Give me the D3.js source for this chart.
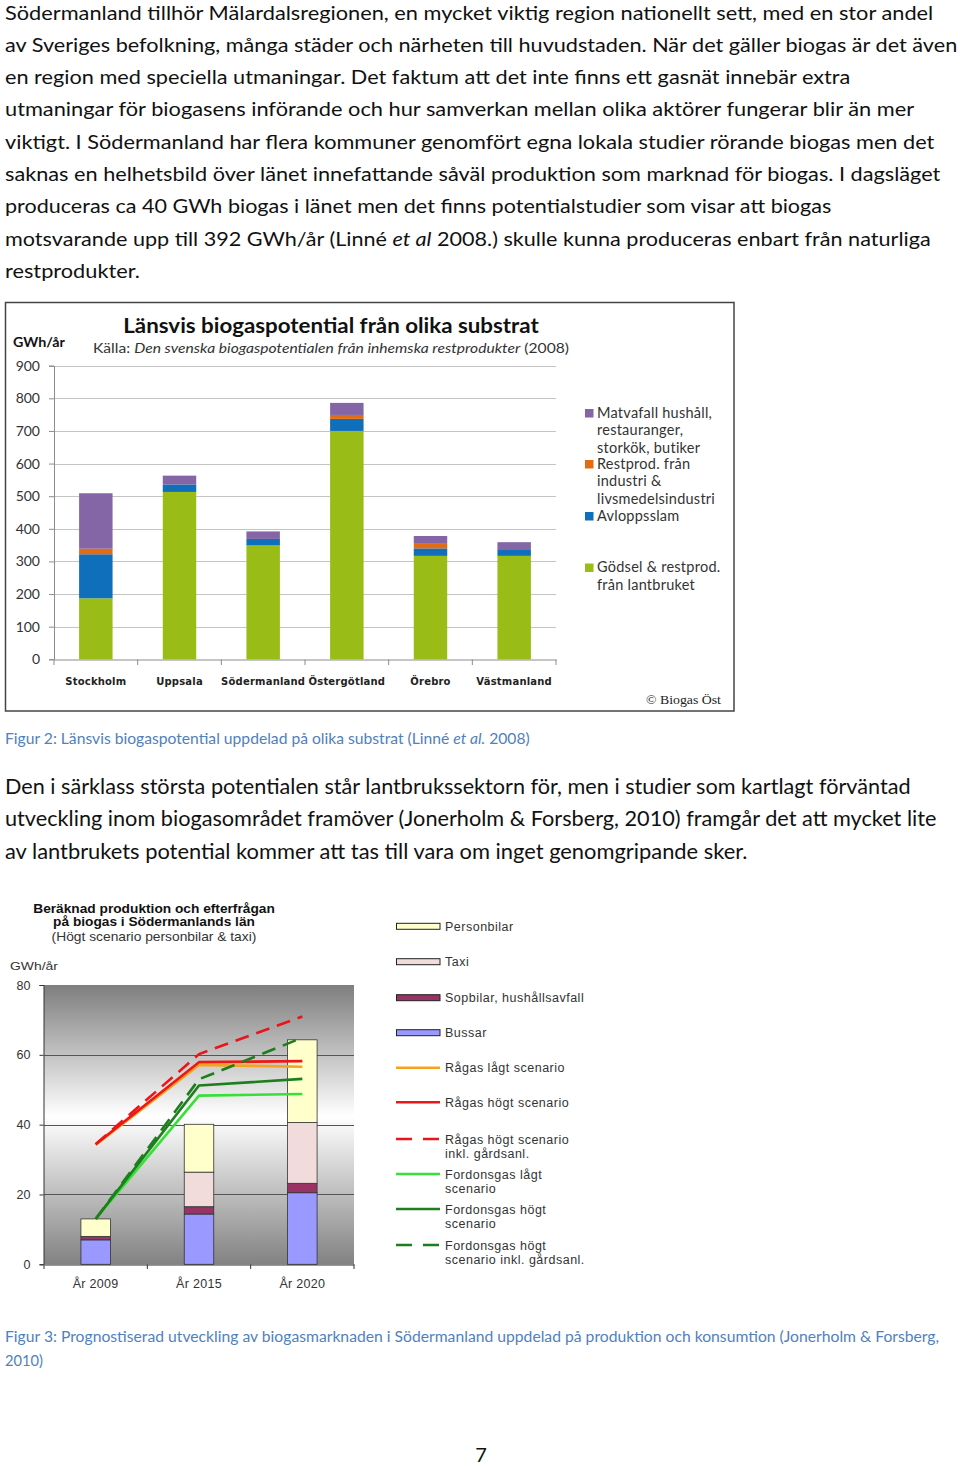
<!DOCTYPE html>
<html><head><meta charset="utf-8">
<script src="https://cdn.jsdelivr.net/npm/d3@7"></script>
<style>body{margin:0;background:#fff}svg{display:block}</style>
</head><body>
<script>
// ---------- Figure 2 data ----------
const regions = ["Stockholm","Uppsala","Södermanland","Östergötland","Örebro","Västmanland"];
const godsel    = [187, 513, 349, 700, 317, 317];
const avlopp    = [135,  23,  20,  37,  23,  18];
const restprod  = [ 17,   0,   0,  12,  14,   0];
const matavfall = [170,  27,  23,  37,  24,  24];
const yTicks1 = [0,100,200,300,400,500,600,700,800,900];
const legend1Labels = [
  ["Matvafall hushåll,","restauranger,","storkök, butiker"],
  ["Restprod. från","industri &","livsmedelsindustri"],
  ["Avloppsslam"],
  ["Gödsel & restprod.","från lantbruket"]
];
// ---------- Figure 3 data ----------
const years = ["År 2009","År 2015","År 2020"];
const bussar      = [7.0, 14.4, 20.5];
const sopbilar    = [1.0,  2.1,  2.7];
const taxi        = [0.0,  9.9, 17.4];
const personbilar = [5.0, 13.7, 23.7];
const ragasLagt      = [34.2, 57.1, 56.6];
const ragasHogt      = [34.4, 57.9, 58.2];
const ragasHogtGard  = [34.4, 60.2, 71.0];
const fordLagt       = [13.0, 48.3, 48.8];
const fordHogt       = [13.0, 51.2, 53.1];
const fordHogtGard   = [13.0, 53.0, 64.9];
const yTicks2 = [0,20,40,60,80];
const barLegend2 = ["Personbilar","Taxi","Sopbilar, hushållsavfall","Bussar"];
const lineLegend2 = [
  ["Rågas lågt scenario"],
  ["Rågas högt scenario"],
  ["Rågas högt scenario","inkl. gårdsanl."],
  ["Fordonsgas lågt","scenario"],
  ["Fordonsgas högt","scenario"],
  ["Fordonsgas högt","scenario inkl. gårdsanl."]
];
// ---------- text ----------
const para1 = [
  [["Södermanland tillhör Mälardalsregionen, en mycket viktig region nationellt sett, med en stor andel"]],
  [["av Sveriges befolkning, många städer och närheten till huvudstaden. När det gäller biogas är det även"]],
  [["en region med speciella utmaningar. Det faktum att det inte finns ett gasnät innebär extra"]],
  [["utmaningar för biogasens införande och hur samverkan mellan olika aktörer fungerar blir än mer"]],
  [["viktigt. I Södermanland har flera kommuner genomfört egna lokala studier rörande biogas men det"]],
  [["saknas en helhetsbild över länet innefattande såväl produktion som marknad för biogas. I dagsläget"]],
  [["produceras ca 40 GWh biogas i länet men det finns potentialstudier som visar att biogas"]],
  [["motsvarande upp till 392 GWh/år (Linné "],["et al",1],[" 2008.) skulle kunna produceras enbart från naturliga"]],
  [["restprodukter."]]
];
const para1Ends = [934,958,851,915,935,941,832,931,140];
const para2 = [
  [["Den i särklass största potentialen står lantbrukssektorn för, men i studier som kartlagt förväntad"]],
  [["utveckling inom biogasområdet framöver (Jonerholm & Forsberg, 2010) framgår det att mycket lite"]],
  [["av lantbrukets potential kommer att tas till vara om inget genomgripande sker."]]
];
const para2Ends = [911,937,748];

const W = 960, H = 1466;
const svg = d3.select("body").append("svg").attr("width",W).attr("height",H);
svg.append("rect").attr("width",W).attr("height",H).attr("fill","#fff");

function fitText(g, x, y, parts, targetW, o) {
  o = o || {};
  const t = g.append("text").attr("x",x).attr("y",y)
    .attr("font-family", o.family || "Lato")
    .attr("font-size", o.size || 20)
    .attr("font-weight", o.weight || null)
    .attr("fill", o.fill || "#111")
    .attr("text-anchor", o.anchor || "start");
  parts.forEach(p => t.append("tspan").text(p[0]).attr("font-style", p[1] ? "italic" : null));
  if (targetW) {
    const w = t.node().getComputedTextLength();
    const s = targetW / w;
    t.attr("transform", `translate(${x},0) scale(${s},1) translate(${-x},0)`);
  }
  return t;
}

// paragraphs
para1.forEach((ln,i) => fitText(svg, 5, 19.5 + i*32.3, ln, para1Ends[i]-5, {size:20}));
para2.forEach((ln,i) => fitText(svg, 5, 794 + i*32.5, ln, para2Ends[i]-5, {size:20.5}));

// captions
fitText(svg, 5, 744, [["Figur 2: Länsvis biogaspotential uppdelad på olika substrat (Linné "],["et al.",1],[" 2008)"]], 525, {size:15, fill:"#4F81BD"});
fitText(svg, 5, 1342, [["Figur 3: Prognostiserad utveckling av biogasmarknaden i Södermanland uppdelad på produktion och konsumtion (Jonerholm & Forsberg,"]], 935, {size:15, fill:"#4F81BD"});
fitText(svg, 5, 1366, [["2010)"]], 38, {size:15, fill:"#4F81BD"});
// page number
svg.append("text").attr("x",481).attr("y",1462).attr("text-anchor","middle")
  .attr("font-family","Lato").attr("font-size",20).attr("fill","#111").text("7");

// ================= Figure 2 =================
const c1 = svg.append("g");
c1.append("rect").attr("x",5.5).attr("y",302.5).attr("width",728.5).attr("height",408.5)
  .attr("fill","#fff").attr("stroke","#444").attr("stroke-width",1.5);

const y1 = d3.scaleLinear().domain([0,900]).range([659.3,365.7]);
const x1 = d3.scaleBand().domain(regions).range([54,556]).padding(0);

// gridlines
c1.append("g").selectAll("line").data(yTicks1.filter(d=>d>0)).join("line")
  .attr("x1",54).attr("x2",556).attr("y1",d=>Math.round(y1(d))+0.5).attr("y2",d=>Math.round(y1(d))+0.5)
  .attr("stroke","#c4c4c4").attr("stroke-width",1);

const keys1 = ["godsel","avlopp","restprod","matavfall"];
const colors1 = {godsel:"#99BD16", avlopp:"#0F6FBA", restprod:"#E36B12", matavfall:"#8466A6"};
const table1 = regions.map((r,i)=>({region:r, godsel:godsel[i], avlopp:avlopp[i], restprod:restprod[i], matavfall:matavfall[i]}));
const stack1 = d3.stack().keys(keys1)(table1);
const bw1 = x1.bandwidth()*0.4;
c1.append("g").selectAll("g").data(stack1).join("g").attr("fill",d=>colors1[d.key])
  .selectAll("rect").data(d=>d).join("rect")
  .attr("x",d=>x1(d.data.region)+x1.bandwidth()/2-bw1/2).attr("width",bw1)
  .attr("y",d=>y1(d[1])).attr("height",d=>y1(d[0])-y1(d[1]));

// axes
const yAx1 = c1.append("g").attr("transform","translate(54,0)")
  .call(d3.axisLeft(y1).tickValues(yTicks1).tickSize(5).tickPadding(9).tickFormat(d3.format("d")));
yAx1.select(".domain").attr("stroke","#8c8c8c");
yAx1.selectAll(".tick line").attr("stroke","#8c8c8c");
yAx1.selectAll("text").attr("font-family","Lato").attr("font-size",14).attr("fill","#333");

const xAx1 = c1.append("g").attr("transform","translate(0,659.5)")
  .call(d3.axisBottom(x1).tickSize(0).tickPadding(18));
xAx1.select(".domain").attr("stroke","#8c8c8c");
xAx1.selectAll("text").attr("font-family","DejaVu Sans").attr("font-weight","bold")
  .attr("font-size",10).attr("fill","#222").attr("letter-spacing",0.2);
// category boundary ticks
c1.append("g").selectAll("line").data(regions.map(r=>x1(r)).concat([x1.range()[1]])).join("line")
  .attr("x1",d=>d).attr("x2",d=>d).attr("y1",659.5).attr("y2",665).attr("stroke","#8c8c8c");

// titles
fitText(c1, 331, 333.5, [["Länsvis biogaspotential från olika substrat"]], 416, {size:20, weight:"bold", anchor:"middle", fill:"#111"});
fitText(c1, 93, 353, [["Källa: "],["Den svenska biogaspotentialen från inhemska restprodukter",1],[" (2008)"]], 476, {size:13.5, fill:"#333"});
fitText(c1, 13, 347.5, [["GWh/år"]], 52, {size:13, weight:"bold", fill:"#111"});
fitText(c1, 646, 704.5, [["© Biogas Öst"]], 75, {size:12, family:"Liberation Serif", fill:"#222"});

// legend
const legKeys1 = ["matavfall","restprod","avlopp","godsel"];
const legY1 = [417.5, 468.5, 520.5, 572];
legKeys1.forEach((k,i)=>{
  c1.append("rect").attr("x",585).attr("y",legY1[i]-8.5).attr("width",8.5).attr("height",8.5).attr("fill",colors1[k]);
  legend1Labels[i].forEach((t,j)=>{
    c1.append("text").attr("x",597).attr("y",legY1[i]+j*17.8)
      .attr("font-family","Lato").attr("font-size",14.5).attr("letter-spacing",0.25)
      .attr("fill","#333").text(t);
  });
});

// ================= Figure 3 =================
const c2 = svg.append("g");
const y2 = d3.scaleLinear().domain([0,80]).range([1264.3,985]);
const x2 = d3.scaleBand().domain(years).range([44,354]).padding(0);

const defs = svg.append("defs");
const grad = defs.append("linearGradient").attr("id","bg2").attr("x1",0).attr("x2",0).attr("y1",0).attr("y2",1);
[[0,"#7e7e7e"],[0.47,"#ffffff"],[1,"#828282"]].forEach(s=>grad.append("stop").attr("offset",s[0]).attr("stop-color",s[1]));
defs.append("clipPath").attr("id","clipLbl").append("rect").attr("x",-20).attr("y",-5).attr("width",420).attr("height",31);

c2.append("rect").attr("x",44).attr("y",y2(80)).attr("width",310).attr("height",y2(0)-y2(80)).attr("fill","url(#bg2)");
c2.append("g").selectAll("line").data(yTicks2.filter(d=>d>0&&d<80)).join("line")
  .attr("x1",44).attr("x2",354).attr("y1",d=>Math.round(y2(d))+0.5).attr("y2",d=>Math.round(y2(d))+0.5)
  .attr("stroke","#555").attr("stroke-width",1);

const keys2 = ["bussar","sopbilar","taxi","personbilar"];
const colors2 = {bussar:"#9999FF", sopbilar:"#993366", taxi:"#F2DCDB", personbilar:"#FFFFCC"};
const table2 = years.map((y,i)=>({year:y, bussar:bussar[i], sopbilar:sopbilar[i], taxi:taxi[i], personbilar:personbilar[i]}));
const stack2 = d3.stack().keys(keys2)(table2);
const bw2 = 29.5;
c2.append("g").selectAll("g").data(stack2).join("g").attr("fill",d=>colors2[d.key])
  .selectAll("rect").data(d=>d).join("rect")
  .attr("x",d=>x2(d.data.year)+x2.bandwidth()/2-bw2/2).attr("width",bw2)
  .attr("y",d=>y2(d[1])).attr("height",d=>y2(d[0])-y2(d[1]))
  .attr("stroke","#333").attr("stroke-width",0.8);

// lines
const lineSeries = [
  {v:ragasLagt, c:"#F5A31C", dash:null},
  {v:ragasHogt, c:"#EE1616", dash:null},
  {v:ragasHogtGard, c:"#E8161B", dash:"14,8"},
  {v:fordLagt, c:"#36E036", dash:null},
  {v:fordHogt, c:"#1C7E1C", dash:null},
  {v:fordHogtGard, c:"#1C7E1C", dash:"14,8"}
];
const line2 = d3.line().x((d,i)=>x2(years[i])+x2.bandwidth()/2).y(d=>y2(d));
c2.append("g").selectAll("path").data(lineSeries).join("path")
  .attr("d",d=>line2(d.v)).attr("fill","none").attr("stroke",d=>d.c).attr("stroke-width",2.6)
  .attr("stroke-dasharray",d=>d.dash).attr("stroke-linejoin","round");

// axes
const yAx2 = c2.append("g").attr("transform","translate(43.5,0)")
  .call(d3.axisLeft(y2).tickValues(yTicks2).tickSize(4).tickPadding(9));
yAx2.select(".domain").attr("stroke","#333");
yAx2.selectAll(".tick line").attr("stroke","#333");
yAx2.selectAll("text").attr("font-family","Liberation Sans").attr("font-size",12.5).attr("fill","#333");
const xAx2 = c2.append("g").attr("transform","translate(0,1264.5)").attr("clip-path","url(#clipLbl)")
  .call(d3.axisBottom(x2).tickSize(0).tickPadding(15));
xAx2.select(".domain").attr("stroke","#333");
xAx2.selectAll("text").attr("font-family","Liberation Sans").attr("font-size",12.5).attr("fill","#333").attr("letter-spacing",0.3);
c2.append("g").selectAll("line").data(years.map(y=>x2(y)).concat([354])).join("line")
  .attr("x1",d=>d).attr("x2",d=>d).attr("y1",1264.5).attr("y2",1269).attr("stroke","#333");

// titles
fitText(c2, 154, 913, [["Beräknad produktion och efterfrågan"]], 242, {size:12, weight:"bold", family:"Liberation Sans", anchor:"middle", fill:"#111"});
fitText(c2, 154, 926.5, [["på biogas i Södermanlands län"]], 202, {size:12, weight:"bold", family:"Liberation Sans", anchor:"middle", fill:"#111"});
fitText(c2, 154, 941, [["(Högt scenario personbilar & taxi)"]], 205, {size:12, family:"Liberation Sans", anchor:"middle", fill:"#333"});
fitText(c2, 10, 970, [["GWh/år"]], 48, {size:11.5, family:"Liberation Sans", fill:"#333"});

// legend
const legBarKeys = ["personbilar","taxi","sopbilar","bussar"];
const legBarY = [926.3, 961.7, 997.7, 1032.7];
const legFont = sel => sel.attr("font-family","Liberation Sans").attr("font-size",12.5)
  .attr("letter-spacing",0.5).attr("fill","#333");
legBarKeys.forEach((k,i)=>{
  c2.append("rect").attr("x",396.5).attr("y",legBarY[i]-3).attr("width",43.5).attr("height",6)
    .attr("fill",colors2[k]).attr("stroke","#222").attr("stroke-width",1);
  c2.append("text").attr("x",445).attr("y",legBarY[i]+4.5).call(legFont).text(barLegend2[i]);
});
const legLineY = [1067.7, 1102.3, 1139, 1174, 1209, 1245];
lineSeries.forEach((s,i)=>{
  c2.append("line").attr("x1",396).attr("x2",440).attr("y1",legLineY[i]).attr("y2",legLineY[i])
    .attr("stroke",s.c).attr("stroke-width",2.4).attr("stroke-dasharray",s.dash?"16,11":null);
  lineLegend2[i].forEach((t,j)=>{
    c2.append("text").attr("x",445).attr("y",legLineY[i]+4.5+j*14).call(legFont).text(t);
  });
});
</script>
</body></html>
